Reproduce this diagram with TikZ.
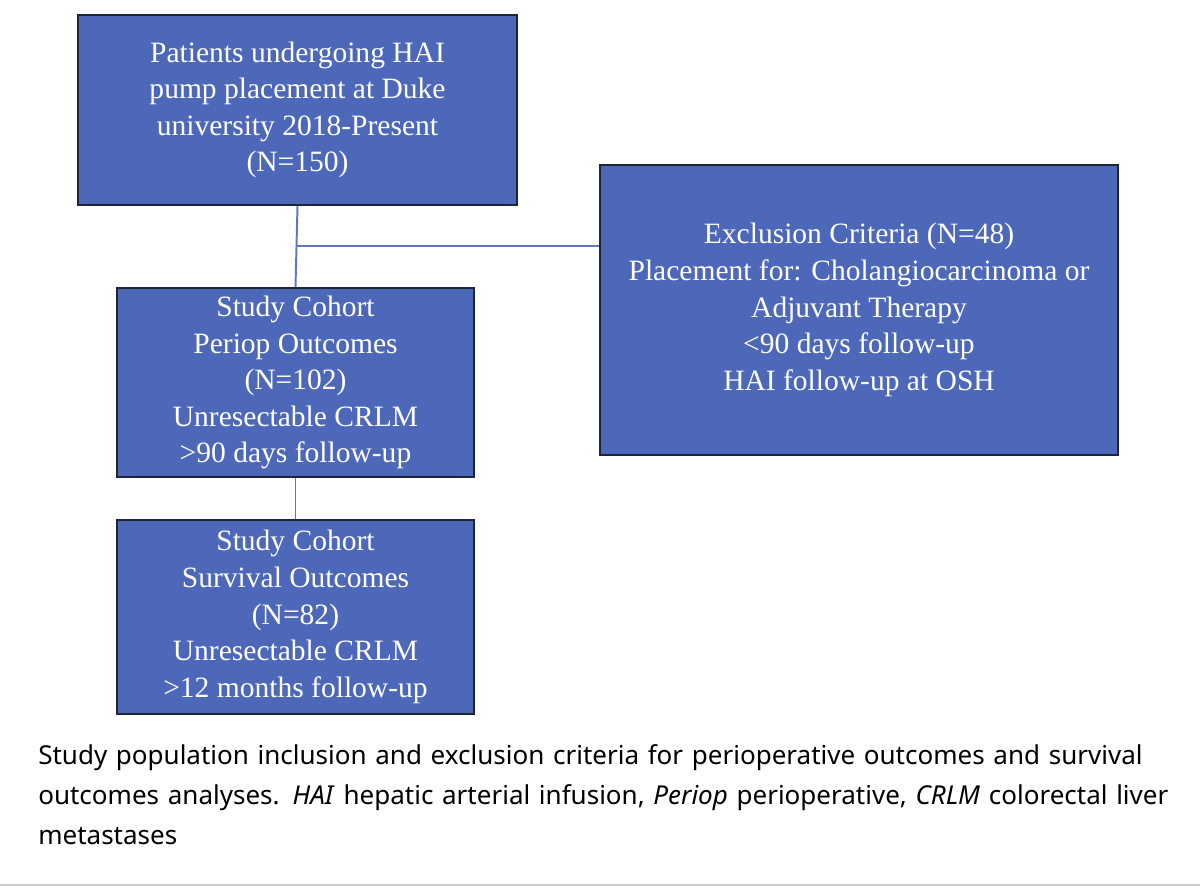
\documentclass[tikz,border=0pt]{standalone}
\usepackage{fontspec}
\setmainfont{Liberation Serif}
\newfontfamily\capfont{Noto Sans}
\usetikzlibrary{positioning}
\definecolor{boxblue}{HTML}{4D68B9}
\definecolor{boxline}{HTML}{1E2535}
\definecolor{linkblue}{HTML}{5B79C6}
\tikzset{flowbox/.style={draw=boxline,line width=1.4pt,fill=boxblue,text=white,align=center,font=\fontsize{21}{26}\selectfont,inner sep=0pt},
  link/.style={draw=linkblue,line width=1.4pt}}
\begin{document}
\begin{tikzpicture}[x=0.025cm,y=-0.025cm]
    \useasboundingbox (0,0) rectangle (1200,888);
    \node[flowbox,minimum width=439*0.025cm,minimum height=190*0.025cm] (pat) at (297.5,110) {Patients undergoing HAI\\pump placement at Duke\\university 2018-Present\\(N=150)};
    \node[flowbox,minimum width=518*0.025cm,minimum height=290*0.025cm] (excl) at (859,310) {Exclusion Criteria (N=48)\\Placement for: Cholangiocarcinoma or\\Adjuvant Therapy\\<90 days follow-up\\HAI follow-up at OSH};
    \node[flowbox,minimum width=357*0.025cm,minimum height=189*0.025cm] (peri) at (295.5,382.5) {Study Cohort\\Periop Outcomes\\(N=102)\\Unresectable CRLM\\>90 days follow-up};
    \node[flowbox,minimum width=357*0.025cm,minimum height=194*0.025cm] (surv) at (295.5,617) {Study Cohort\\Survival Outcomes\\(N=82)\\Unresectable CRLM\\>12 months follow-up};
    \coordinate (split) at (297,246);

    \draw[link] (pat.south) -- (peri.north);
    \draw[link] (split) -- (split -| excl.west);
    \draw[link] (peri.south) -- (surv.north);

    \node[anchor=north west,align=left,text width=1140*0.025cm,inner sep=0pt,font=\capfont\fontsize{18.5}{28.5}\selectfont] (cap) at (38,744)
      {Study population inclusion and exclusion criteria for perioperative outcomes and survival outcomes analyses. \textit{HAI} hepatic arterial infusion, \textit{Periop} perioperative, \textit{CRLM} colorectal liver metastases};
    \draw[gray!40,line width=1pt] (0,885) -- (1200,885);
\end{tikzpicture}
\end{document}
